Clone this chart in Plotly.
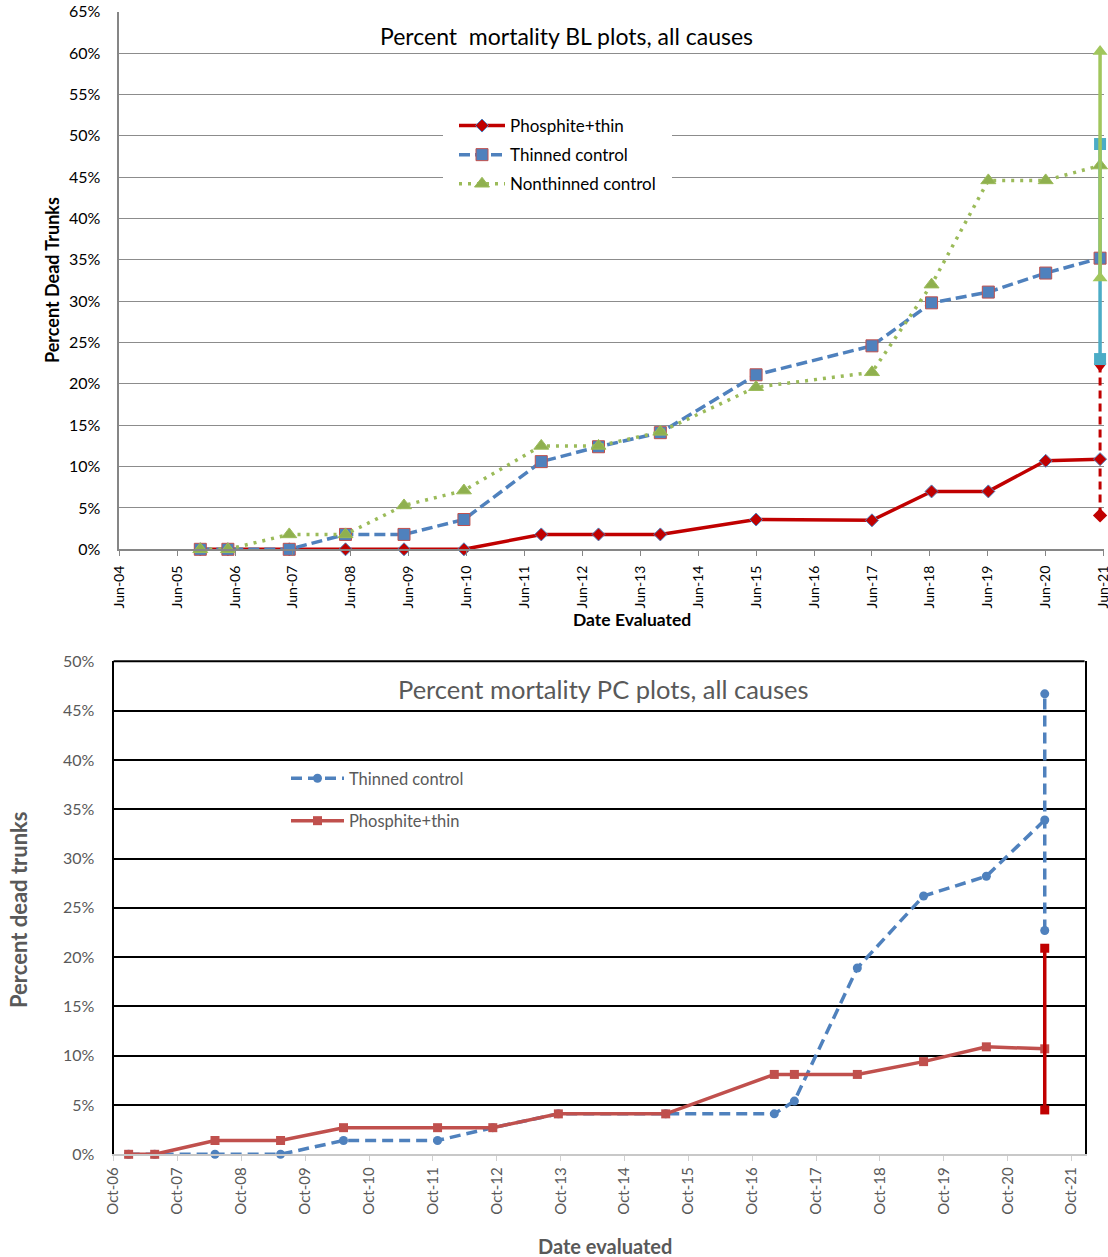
import plotly.graph_objects as go

# BL plots (top chart)
bl_dates = ["2005-10-25", "2006-04-17", "2007-05-09", "2008-04-28", "2009-05-02",
            "2010-05-15", "2011-09-15", "2012-09-10", "2013-10-05", "2015-06-01",
            "2017-06-01", "2018-06-12", "2019-06-05", "2020-06-01", "2021-05-10"]
bl_phos = [0, 0, 0, 0, 0, 0, 1.8, 1.8, 1.8, 3.6, 3.5, 7.0, 7.0, 10.7, 10.9]
bl_thin = [0, 0, 0, 1.8, 1.8, 3.6, 10.6, 12.4, 14.1, 21.1, 24.6, 29.8, 31.1, 33.4, 35.2]
bl_nonthin = [0, 0, 1.8, 1.8, 5.3, 7.1, 12.5, 12.5, 14.2, 19.6, 21.4, 32.0, 44.6, 44.6, 46.4]
bl_phos_range = [4.1, 22.1]
bl_thin_range = [23.0, 49.0]
bl_nonthin_range = [32.8, 60.2]
bl_tick_dates = ["2004-06-01", "2005-06-01", "2006-06-01", "2007-06-01", "2008-06-01",
                 "2009-06-01", "2010-06-01", "2011-06-01", "2012-06-01", "2013-06-01",
                 "2014-06-01", "2015-06-01", "2016-06-01", "2017-06-01", "2018-06-01",
                 "2019-06-01", "2020-06-01", "2021-06-01"]
bl_tick_labels = ["Jun-04", "Jun-05", "Jun-06", "Jun-07", "Jun-08", "Jun-09", "Jun-10",
                  "Jun-11", "Jun-12", "Jun-13", "Jun-14", "Jun-15", "Jun-16", "Jun-17",
                  "Jun-18", "Jun-19", "Jun-20", "Jun-21"]

# PC plots (bottom chart)
pc_dates = ["2006-12-26", "2007-05-24", "2008-05-03", "2009-05-13", "2010-05-08",
            "2011-10-28", "2012-09-08", "2013-09-18", "2015-05-25", "2017-02-04",
            "2017-05-30", "2018-05-25", "2019-06-08", "2020-06-01", "2021-05-01"]
pc_thin = [0, 0, 0, 0, 1.4, 1.4, 2.7, 4.1, 4.1, 4.1, 5.4, 18.9, 26.2, 28.2, 33.9]
pc_phos = [0, 0, 1.4, 1.4, 2.7, 2.7, 2.7, 4.1, 4.1, 8.1, 8.1, 8.1, 9.4, 10.9, 10.7]
pc_thin_range = [22.7, 46.7]
pc_phos_range = [4.5, 20.9]
pc_tick_dates = ["2006-10-01", "2007-10-01", "2008-10-01", "2009-10-01", "2010-10-01",
                 "2011-10-01", "2012-10-01", "2013-10-01", "2014-10-01", "2015-10-01",
                 "2016-10-01", "2017-10-01", "2018-10-01", "2019-10-01", "2020-10-01",
                 "2021-10-01"]
pc_tick_labels = ["Oct-06", "Oct-07", "Oct-08", "Oct-09", "Oct-10", "Oct-11", "Oct-12",
                  "Oct-13", "Oct-14", "Oct-15", "Oct-16", "Oct-17", "Oct-18", "Oct-19",
                  "Oct-20", "Oct-21"]

W, H = 1108, 1257
FONT = "Lato, Carlito, Calibri, sans-serif"
GRAY = "#595959"

# plot areas in page pixels (left, right, top, bottom)
TOP_BOX = (119.3, 1103.6, 11.7, 549.3)
BOT_BOX = (113.6, 1084.6, 661.3, 1154.3)


def px(x):
    return x / W


def py(y):
    return 1 - y / H


def label(text, x, y, size, color, angle=0):
    return dict(text=text, x=px(x), y=py(y), xref="paper", yref="paper",
                xanchor="center", yanchor="middle", showarrow=False,
                textangle=angle, font=dict(size=size, color=color))


fig = go.Figure()

# ---- top chart ----
fig.add_trace(go.Scatter(
    x=bl_dates, y=bl_phos, name="Phosphite+thin", mode="lines+markers",
    xaxis="x", yaxis="y", legend="legend", legendgroup="a", cliponaxis=False,
    line=dict(color="#C00000", width=3.5),
    marker=dict(symbol="diamond", size=10, color="#C00000",
                line=dict(color="#4F81BD", width=1))))
fig.add_trace(go.Scatter(
    x=bl_dates, y=bl_thin, name="Thinned control", mode="lines+markers",
    xaxis="x", yaxis="y", legend="legend", legendgroup="b", cliponaxis=False,
    line=dict(color="#4F81BD", width=3.5, dash="11px,5px"),
    marker=dict(symbol="square", size=12, color="#4F81BD",
                line=dict(color="#C0504D", width=1))))
fig.add_trace(go.Scatter(
    x=bl_dates, y=bl_nonthin, name="Nonthinned control", mode="lines+markers",
    xaxis="x", yaxis="y", legend="legend", legendgroup="c", cliponaxis=False,
    line=dict(color="#9BBB59", width=3.5, dash="3px,6px"),
    marker=dict(symbol="triangle-up", size=13, color="#8FB04F",
                line=dict(color="#9BBB59", width=1))))

last_bl = bl_dates[-1]
fig.add_trace(go.Scatter(
    x=[last_bl, last_bl], y=bl_phos_range, mode="lines+markers", showlegend=False,
    xaxis="x", yaxis="y", cliponaxis=False,
    line=dict(color="#C00000", width=3, dash="8px,5px"),
    marker=dict(symbol=["diamond", "triangle-down"], size=11, color="#C00000")))
fig.add_trace(go.Scatter(
    x=[last_bl, last_bl], y=bl_thin_range, mode="lines+markers", showlegend=False,
    xaxis="x", yaxis="y", cliponaxis=False,
    line=dict(color="#4BACC6", width=3.5),
    marker=dict(symbol="square", size=12, color="#4BACC6")))
fig.add_trace(go.Scatter(
    x=[last_bl, last_bl], y=bl_nonthin_range, mode="lines+markers", showlegend=False,
    xaxis="x", yaxis="y", cliponaxis=False,
    line=dict(color="#A1C65C", width=3.5),
    marker=dict(symbol="triangle-up", size=13, color="#A1C65C")))

# ---- bottom chart ----
fig.add_trace(go.Scatter(
    x=pc_dates, y=pc_thin, name="Thinned control", mode="lines+markers",
    xaxis="x2", yaxis="y2", legend="legend2", legendgroup="d", cliponaxis=False,
    line=dict(color="#4F81BD", width=3.5, dash="11px,6px"),
    marker=dict(symbol="circle", size=9, color="#4F81BD")))
fig.add_trace(go.Scatter(
    x=pc_dates, y=pc_phos, name="Phosphite+thin", mode="lines+markers",
    xaxis="x2", yaxis="y2", legend="legend2", legendgroup="e", cliponaxis=False,
    line=dict(color="#C0504D", width=3.5),
    marker=dict(symbol="square", size=9, color="#C0504D")))

last_pc = pc_dates[-1]
fig.add_trace(go.Scatter(
    x=[last_pc, last_pc], y=pc_thin_range, mode="lines+markers", showlegend=False,
    xaxis="x2", yaxis="y2", cliponaxis=False,
    line=dict(color="#4F81BD", width=3.5, dash="11px,6px"),
    marker=dict(symbol="circle", size=9, color="#4F81BD")))
fig.add_trace(go.Scatter(
    x=[last_pc, last_pc], y=pc_phos_range, mode="lines+markers", showlegend=False,
    xaxis="x2", yaxis="y2", cliponaxis=False,
    line=dict(color="#C00000", width=3.5),
    marker=dict(symbol="square", size=9, color="#C00000")))

tl, tr, tt, tb = TOP_BOX
bl, br, bt, bb = BOT_BOX

fig.update_layout(
    width=W, height=H, autosize=False,
    margin=dict(l=0, r=0, t=0, b=0, pad=0),
    paper_bgcolor="white", plot_bgcolor="white",
    font=dict(family=FONT, size=15, color="black"),
    xaxis=dict(
        domain=[px(tl), px(tr)], anchor="y", type="date", automargin=False,
        range=["2004-06-01", "2021-06-01 06:00"],
        tickmode="array", tickvals=bl_tick_dates, ticktext=bl_tick_labels,
        tickangle=-90, tickfont=dict(size=14, color="black"), ticklabelstandoff=4,
        ticklabeloverflow="allow",
        ticks="outside", ticklen=5, tickcolor="#868686",
        showline=True, linecolor="#868686", linewidth=1.5,
        showgrid=False, zeroline=False),
    yaxis=dict(
        domain=[py(tb), py(tt)], anchor="x", automargin=False,
        range=[0, 65], tickmode="linear", tick0=0, dtick=5, ticksuffix="%",
        tickfont=dict(size=16, color="black"), ticklabelstandoff=14,
        showline=True, linecolor="#868686", linewidth=1.5,
        showgrid=True, gridcolor="#8C8C8C", gridwidth=1, zeroline=False),
    xaxis2=dict(
        domain=[px(bl), px(br)], anchor="y2", type="date", automargin=False,
        range=["2006-10-01", "2021-12-15"],
        tickmode="array", tickvals=pc_tick_dates, ticktext=pc_tick_labels,
        tickangle=-90, tickfont=dict(size=15, color=GRAY),
        ticklabeloverflow="allow",
        ticks="outside", ticklen=5, tickcolor="#D0D0D0",
        showline=True, linecolor="#C8C8C8", linewidth=2,
        showgrid=False, zeroline=False),
    yaxis2=dict(
        domain=[py(bb), py(bt)], anchor="x2", automargin=False,
        range=[0, 50], tickmode="linear", tick0=0, dtick=5, ticksuffix="%",
        tickfont=dict(size=16, color=GRAY), ticklabelstandoff=14,
        showline=True, linecolor="black", linewidth=2, mirror=True,
        showgrid=True, gridcolor="black", gridwidth=1.5, zeroline=False),
    legend=dict(
        x=px(454), y=py(108), xanchor="left", yanchor="top",
        bgcolor="rgba(0,0,0,0)", font=dict(size=17, color="black"),
        tracegroupgap=4, itemwidth=46),
    legend2=dict(
        x=px(286), y=py(761), xanchor="left", yanchor="top",
        bgcolor="rgba(0,0,0,0)", font=dict(size=16.5, color=GRAY),
        tracegroupgap=18, itemwidth=53),
    shapes=[
        # white legend background of the top chart, hides the gridlines there
        dict(type="rect", xref="paper", yref="paper",
             x0=px(443), x1=px(672), y0=py(200), y1=py(113),
             fillcolor="white", line=dict(width=0)),
        # top edge of the bottom chart frame
        dict(type="line", xref="paper", yref="paper",
             x0=px(bl), x1=px(br), y0=py(bt), y1=py(bt),
             line=dict(color="black", width=2)),
    ],
    annotations=[
        label("Percent\u00a0 mortality BL plots, all causes", 567, 36, 23, "black"),
        label("<b>Percent Dead Trunks</b>", 52, 280, 18, "black", -90),
        label("<b>Date Evaluated</b>", 632, 619, 17.5, "black"),
        label("Percent mortality PC plots, all causes", 603, 689, 25.5, GRAY),
        label("<b>Percent dead trunks</b>", 18, 910, 22, GRAY, -90),
        label("<b>Date evaluated</b>", 605, 1246, 20, GRAY),
    ],
)

# page margin off so the figure fills the window exactly
fig.write_html("out.html", config={"displayModeBar": False},
               post_script="document.body.style.margin='0';")
